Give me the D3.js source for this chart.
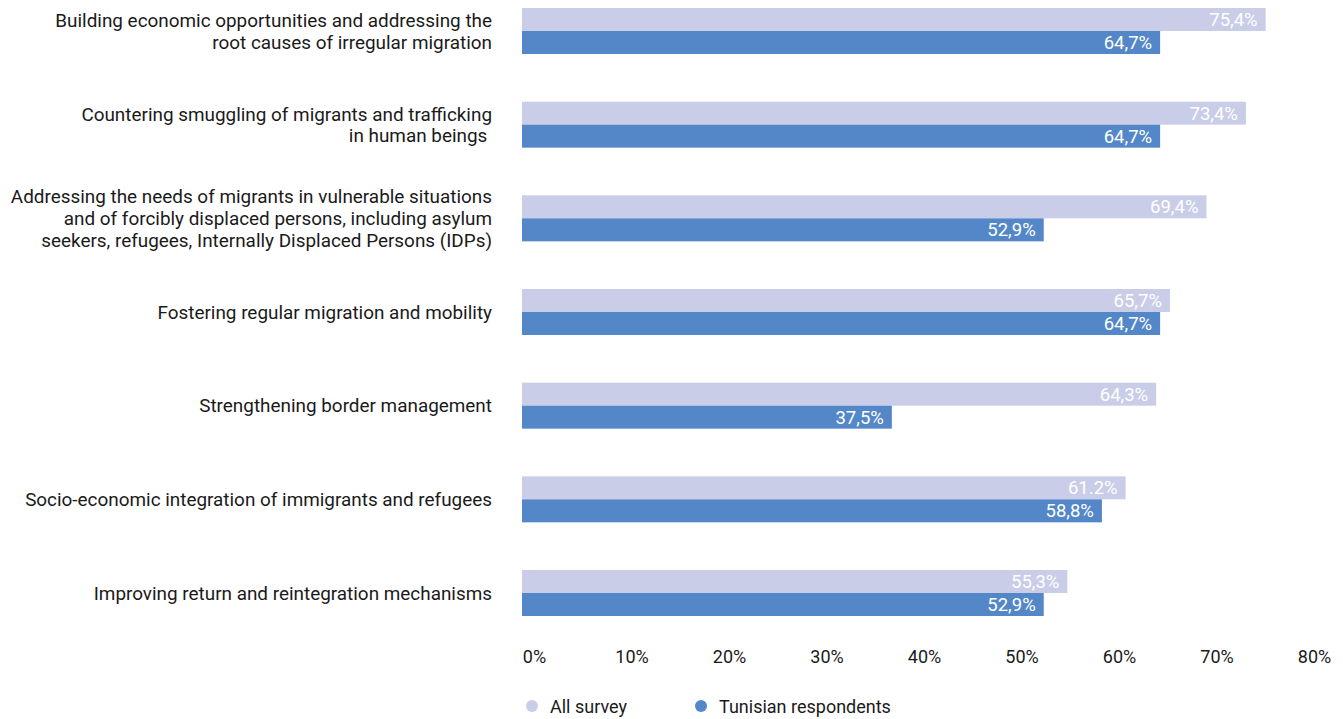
<!DOCTYPE html>
<html>
<head>
<meta charset="utf-8">
<script src="https://cdn.jsdelivr.net/npm/d3@7"></script>
<style>
  html, body { margin: 0; padding: 0; background: #fff; }
  svg { display: block; font-family: Roboto, "Noto Sans", sans-serif; }
</style>
</head>
<body>
<svg id="chart" width="1343" height="719"></svg>
<script>
// ---- data ----
const categories = [
  ["Building economic opportunities and addressing the", "root causes of irregular migration"],
  ["Countering smuggling of migrants and trafficking", "in human beings "],
  ["Addressing the needs of migrants in vulnerable situations", "and of forcibly displaced persons, including asylum", "seekers, refugees, Internally Displaced Persons (IDPs)"],
  ["Fostering regular migration and mobility"],
  ["Strengthening border management"],
  ["Socio-economic integration of immigrants and refugees"],
  ["Improving return and reintegration mechanisms"]
];
const seriesNames = ["All survey", "Tunisian respondents"];
const allSurvey = [75.4, 73.4, 69.4, 65.7, 64.3, 61.2, 55.3];
const tunisian = [64.7, 64.7, 52.9, 64.7, 37.5, 58.8, 52.9];
const allSurveyLabels = ["75,4%", "73,4%", "69,4%", "65,7%", "64,3%", "61.2%", "55,3%"];
const tunisianLabels = ["64,7%", "64,7%", "52,9%", "64,7%", "37,5%", "58,8%", "52,9%"];
const tickValues = [0, 10, 20, 30, 40, 50, 60, 70, 80];
const colors = ["#c9cde8", "#5487c8"];

// ---- build ----
const svg = d3.select("#chart");
const idx = d3.range(categories.length);

const x = d3.scaleLinear().domain([0, 80]).range([522, 1311]);
const xTicks = d3.scaleLinear().domain([0, 80]).range([534, 1314]);
const y = d3.scaleBand().domain(idx).range([8, 616]).paddingInner(0.509).paddingOuter(0);
const ySub = d3.scaleBand().domain([0, 1]).range([0, y.bandwidth()]);

const series = [
  { name: seriesNames[0], values: allSurvey, labels: allSurveyLabels, color: colors[0] },
  { name: seriesNames[1], values: tunisian, labels: tunisianLabels, color: colors[1] }
];

const groups = svg.append("g").selectAll("g.grp")
  .data(idx).join("g")
  .attr("class", "grp")
  .attr("transform", i => `translate(0,${y(i)})`);

series.forEach((s, si) => {
  groups.append("rect")
    .attr("x", x(0))
    .attr("y", ySub(si))
    .attr("width", i => x(s.values[i]) - x(0))
    .attr("height", ySub.bandwidth())
    .attr("fill", s.color);
  groups.append("text")
    .attr("x", i => x(s.values[i]) - 8)
    .attr("y", ySub(si) + ySub.bandwidth() / 2)
    .attr("dy", "0.36em")
    .attr("text-anchor", "end")
    .attr("fill", "#ffffff")
    .style("font-size", "18.5px")
    .text(i => s.labels[i]);
});

// category labels
const lineH = 21.8;
groups.append("text")
  .attr("text-anchor", "end")
  .attr("fill", "#1a1a1a")
  .style("font-size", "18.9px")
  .style("white-space", "pre")
  .attr("xml:space", "preserve")
  .each(function(i) {
    const lines = categories[i];
    const c = y.bandwidth() / 2;
    const t = d3.select(this);
    lines.forEach((ln, k) => {
      t.append("tspan")
        .attr("x", 492)
        .attr("y", c + (k - (lines.length - 1) / 2) * lineH)
        .attr("dy", "0.36em")
        .text(ln);
    });
  });

// x axis labels
const axis = d3.axisBottom(xTicks).tickValues(tickValues).tickSize(0).tickPadding(0)
  .tickFormat(d => d + "%");
const ax = svg.append("g").attr("transform", "translate(0,657)").call(axis);
ax.select(".domain").remove();
ax.selectAll("text")
  .attr("dy", "0.36em")
  .attr("fill", "#1a1a1a")
  .style("font-size", "18px")
  .style("font-family", "Roboto, sans-serif");

// legend
const legendX = [532, 701];
const leg = svg.append("g").selectAll("g").data(series).join("g")
  .attr("transform", (d, i) => `translate(${legendX[i]},707)`);
leg.append("circle").attr("r", 6).attr("cy", -1).attr("fill", d => d.color);
leg.append("text")
  .attr("x", 18)
  .attr("dy", "0.36em")
  .attr("fill", "#1a1a1a")
  .style("font-size", "18px")
  .text(d => d.name);
</script>
</body>
</html>
